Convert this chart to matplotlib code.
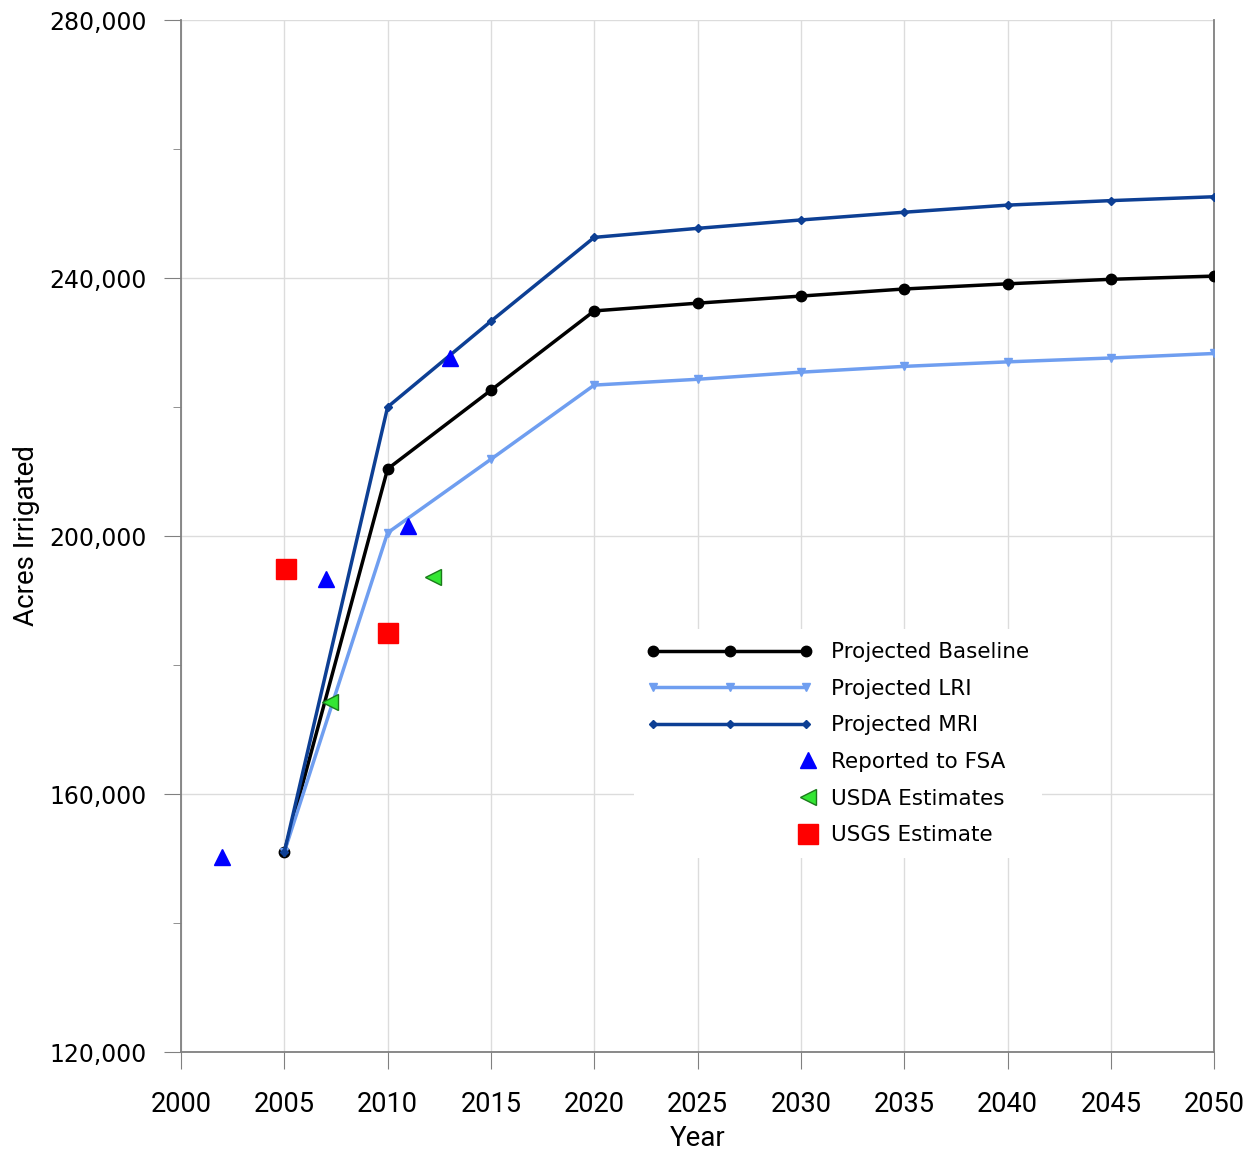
import numpy as np
import matplotlib
matplotlib.use('Agg')
import matplotlib.pyplot as plt
from matplotlib.legend_handler import HandlerLine2D
from matplotlib.ticker import FuncFormatter, MultipleLocator

# projected series
years = [2005, 2010, 2015, 2020, 2025, 2030, 2035, 2040, 2045, 2050]
baseline = [151000, 210400, 222600, 234900, 236100, 237200, 238300, 239100, 239800, 240300]
lri = [151000, 200500, 211900, 223400, 224300, 225400, 226300, 227000, 227600, 228300]
mri = [151000, 220000, 233300, 246300, 247700, 249000, 250200, 251300, 252000, 252600]

# observed points
fsa_years = [2002, 2007, 2011, 2013]
fsa_vals = [150300, 193400, 201600, 227600]
usda_years = [2007.2, 2012.2]
usda_vals = [174300, 193600]
usgs_years = [2005.1, 2010]
usgs_vals = [194900, 185000]

narrow = 'Roboto'  # narrower face for x ticks and axis titles


class RightMarker(HandlerLine2D):
    # single marker at the right end of the handle
    def get_xdata(self, legend, xdescent, ydescent, width, height, fontsize):
        x = np.array([-xdescent + width - 3.0])
        return x, x


fig = plt.figure(figsize=(12.49, 11.5), dpi=100)
ax = fig.add_axes([0.1449, 0.0852, 0.8272, 0.8974])

ax.grid(True, color='#dcdcdc', lw=1, zorder=0)
ax.set_axisbelow(True)

l1, = ax.plot(years, baseline, color='black', lw=2.5, marker='o', ms=7.5,
              label='Projected Baseline', zorder=3)
l2, = ax.plot(years, lri, color='#6f9ef0', lw=2.5, marker='v', ms=6,
              label='Projected LRI', zorder=3)
l3, = ax.plot(years, mri, color='#0d3f94', lw=2.5, marker='D', ms=4.5,
              label='Projected MRI', zorder=3)
p1, = ax.plot(fsa_years, fsa_vals, ls='none', marker='^', ms=12,
              color='#0000ff', label='Reported to FSA', zorder=4)
p2, = ax.plot(usda_years, usda_vals, ls='none', marker='<', ms=11,
              markerfacecolor='#33e633', markeredgecolor='#1a7a1a', mew=1,
              label='USDA Estimates', zorder=4)
p3, = ax.plot(usgs_years, usgs_vals, ls='none', marker='s', ms=14,
              color='#ff0000', label='USGS Estimate', zorder=4)

ax.set_xlim(2000, 2050)
ax.set_ylim(120000, 280000)
ax.xaxis.set_major_locator(MultipleLocator(5))
ax.yaxis.set_major_locator(MultipleLocator(40000))
ax.yaxis.set_minor_locator(MultipleLocator(20000))
ax.yaxis.set_major_formatter(FuncFormatter(lambda v, p: f'{int(v):,}'))

ax.spines['top'].set_visible(False)
for s in ['left', 'bottom', 'right']:
    ax.spines[s].set_color('#808080')
    ax.spines[s].set_linewidth(1.3)

ax.tick_params(axis='x', which='major', direction='out', length=12,
               color='#808080', pad=16)
ax.tick_params(axis='y', which='major', direction='out', length=12,
               color='#808080', labelsize=17, pad=13)
ax.tick_params(axis='y', which='minor', direction='out', length=6, color='#808080')
for t in ax.get_xticklabels():
    t.set_fontfamily(narrow)
    t.set_fontsize(19.5)

ax.set_xlabel('Year', fontsize=20, family=narrow)
ax.set_ylabel('Acres Irrigated', fontsize=20, family=narrow)
ax.xaxis.set_label_coords(0.5, -0.071)
ax.yaxis.set_label_coords(-0.1365, 0.5)

h1 = HandlerLine2D(numpoints=3)
h2 = RightMarker(numpoints=2)
leg = ax.legend(handles=[l1, l2, l3, p1, p2, p3],
                handler_map={l1: h1, l2: h1, l3: h1, p1: h2, p2: h2, p3: h2},
                loc='upper left', bbox_to_anchor=(0.428, 0.420),
                fontsize=15.5, handlelength=7.7, handletextpad=0.85,
                labelspacing=0.77, frameon=True, fancybox=False,
                facecolor='white', edgecolor='none', framealpha=1,
                borderpad=0.6)
leg.set_zorder(5)

plt.savefig('out.png', dpi=100)
